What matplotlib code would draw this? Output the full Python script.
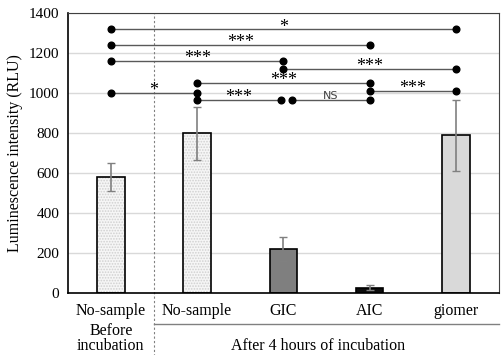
import matplotlib.pyplot as plt
from matplotlib.transforms import blended_transform_factory

# bar data
categories = ['No-sample', 'No-sample', 'GIC', 'AIC', 'giomer']
values = [580, 800, 220, 25, 790]
err_low = [70, 135, 60, 12, 180]
err_high = [70, 130, 60, 13, 175]
face_colors = ['#f6f6f6', '#f6f6f6', '#7f7f7f', '#0d0d0d', '#d9d9d9']
hatches = ['......', '......', None, None, None]

# significance brackets: (start cat, end cat, level, label)
sig_start = [0, 0, 0, 0, 2, 1, 3, 1, 2.1]
sig_end = [4, 3, 2, 1, 4, 3, 4, 1.97, 3]
sig_level = [1320, 1240, 1160, 1000, 1120, 1050, 1010, 965, 965]
sig_label = ['*', '***', '***', '*', '***', '***', '***', '***', 'NS']

serif = 'Liberation Serif'
plt.rcParams['hatch.linewidth'] = 0.8

fig = plt.figure(figsize=(5.02, 3.55), dpi=100)
ax = fig.add_axes([0.135, 0.175, 0.859, 0.788])

x = list(range(len(categories)))
ax.set_axisbelow(True)
ax.yaxis.grid(True, color='#d9d9d9', linewidth=1)
for i in x:
    # fill with light stipple, then outline on top
    ax.bar(i, values[i], width=0.32, color=face_colors[i], edgecolor='#d0d0d0',
           linewidth=0, hatch=hatches[i], zorder=2)
    ax.bar(i, values[i], width=0.32, fill=False, edgecolor='black',
           linewidth=1.2, zorder=2.5)
ax.errorbar(x, values, yerr=[err_low, err_high], fmt='none', ecolor='#808080',
            elinewidth=1.2, capsize=3, capthick=1, zorder=3)

# significance lines
for s, e, lvl, lab in zip(sig_start, sig_end, sig_level, sig_label):
    ax.plot([s, e], [lvl, lvl], color='#595959', linewidth=1, zorder=4)
    ax.plot([s, e], [lvl, lvl], 'o', color='black', markersize=4.8, zorder=5)
    mid = (s + e) / 2
    if lab == 'NS':
        ax.text(mid, lvl - 6, lab, ha='center', va='bottom', fontsize=8,
                color='#404040', family='DejaVu Sans')
    else:
        ax.text(mid, lvl - 32, lab, ha='center', va='bottom', fontsize=13,
                family=serif)

ax.set_xlim(-0.5, 4.5)
ax.set_ylim(0, 1400)
ax.set_yticks(range(0, 1401, 200))
ax.tick_params(axis='y', length=0, labelsize=11, pad=6)
for lbl in ax.get_yticklabels():
    lbl.set_family(serif)
ax.set_xticks([])
ax.set_ylabel('Luminescence intensity (RLU)', family=serif, fontsize=11.5)
for side in ['top', 'right']:
    ax.spines[side].set_color('#404040')
ax.spines['left'].set_linewidth(1.2)
ax.spines['bottom'].set_linewidth(1.2)

# x labels drawn as text below axes
tr = blended_transform_factory(ax.transData, ax.transAxes)
for i, c in enumerate(categories):
    ax.text(i, -0.065, c, transform=tr, ha='center', va='center',
            fontsize=11.5, family=serif)
ax.text(0, -0.135, 'Before', transform=tr, ha='center', va='center',
        fontsize=11.5, family=serif)
ax.text(0, -0.19, 'incubation', transform=tr, ha='center', va='center',
        fontsize=11.5, family=serif)
ax.text(2.4, -0.19, 'After 4 hours of incubation', transform=tr, ha='center',
        va='center', fontsize=11.5, family=serif)
ax.plot([0.5, 4.5], [-0.11, -0.11], transform=tr, color='#808080',
        linewidth=1, clip_on=False)
ax.plot([0.5, 0.5], [-0.23, 1.0], transform=tr, color='#808080',
        linewidth=0.8, linestyle=(0, (2, 2)), clip_on=False)

fig.savefig('out.png', dpi=100, facecolor='white')
